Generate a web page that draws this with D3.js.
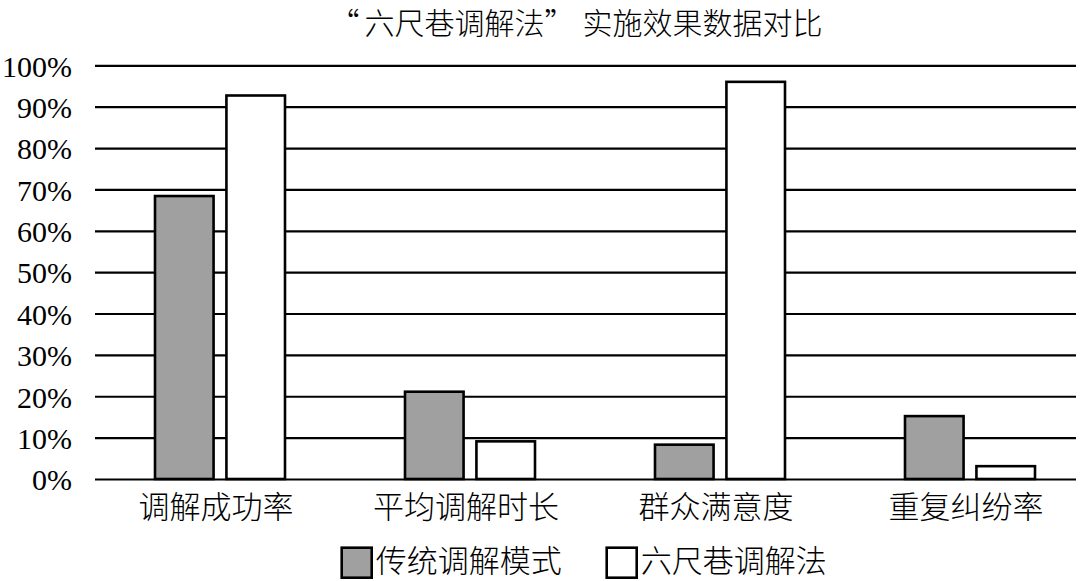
<!DOCTYPE html>
<html lang="zh-CN">
<head>
<meta charset="utf-8">
<script src="https://cdn.jsdelivr.net/npm/d3@7"></script>
<style>
  body { margin: 0; background: #fff; }
  svg { display: block; }
  .cjk { font-family: "Noto Sans CJK SC", sans-serif; font-weight: 300; fill: #000; }
  .num { font-family: "Liberation Serif", "DejaVu Serif", serif; fill: #000; }
</style>
</head>
<body>
<div id="chart"></div>
<script>
// data
var categories = ["调解成功率", "平均调解时长", "群众满意度", "重复纠纷率"]
var seriesNames = ["传统调解模式", "六尺巷调解法"]
var traditional = [0.684, 0.211, 0.083, 0.152]
var liuchixiang = [0.927, 0.091, 0.960, 0.031]
var yTicks = [0, 0.1, 0.2, 0.3, 0.4, 0.5, 0.6, 0.7, 0.8, 0.9, 1.0]
// title pieces, quotes set full-width like the original
var titleParts = ["“", "六尺巷调解法", "”", "实施效果数据对比"]

const width = 1080
const height = 581
const fills = ["#a0a0a0", "#ffffff"]

// plot area
const plotLeft = 95
const gridRight = 1076
const plotTop = 65.3
const plotBottom = 479

var rows = categories.map((c, i) => ({ cat: c, values: [traditional[i], liuchixiang[i]] }))

const svg = d3.select('#chart')
    .append('svg')
    .attr('width', width)
    .attr('height', height)

const x0 = d3.scaleBand()
    .domain(categories)
    .range([plotLeft, plotLeft + 1000])
    .padding(0)

const x1 = d3.scaleBand()
    .domain(seriesNames)
    .range([0, x0.bandwidth()])
    .paddingInner(0.18)
    .paddingOuter(0.84)

const y = d3.scaleLinear()
    .domain([0, 1])
    .range([plotBottom, plotTop])

// gridlines + y labels
const yAxis = svg.append('g')
    .attr('transform', `translate(${plotLeft},0)`)
    .call(d3.axisLeft(y)
        .tickValues(yTicks)
        .tickFormat(d3.format('.0%'))
        .tickSizeInner(-(gridRight - plotLeft))
        .tickSizeOuter(0)
        .tickPadding(23))

yAxis.attr('font-family', null)
yAxis.select('.domain').remove()
yAxis.selectAll('line')
    .attr('stroke', '#000')
    .attr('stroke-width', 2.2)
yAxis.selectAll('text')
    .attr('class', 'num')
    .attr('fill', null)
    .style('font-size', '30px')
    .attr('dy', '0.36em')

// bars
const groups = svg.append('g')
    .selectAll('g')
    .data(rows)
    .join('g')
    .attr('transform', d => `translate(${x0(d.cat)},0)`)

groups.selectAll('rect')
    .data(d => d.values.map((v, i) => ({ key: seriesNames[i], v: v, i: i })))
    .join('rect')
    .attr('x', d => x1(d.key))
    .attr('y', d => y(d.v))
    .attr('width', x1.bandwidth())
    .attr('height', d => y(0) - y(d.v))
    .attr('fill', d => fills[d.i])
    .attr('stroke', '#000')
    .attr('stroke-width', 2.6)

// category labels
const xAxis = svg.append('g')
    .attr('transform', `translate(-4,${plotBottom})`)
    .call(d3.axisBottom(x0).tickSize(0).tickPadding(0))

xAxis.attr('font-family', null)
xAxis.select('.domain').remove()
xAxis.selectAll('text')
    .attr('class', 'cjk')
    .attr('fill', null)
    .style('font-size', '31px')
    .attr('dy', null)
    .attr('y', 39)

// title
const titleEl = svg.append('text')
    .attr('class', 'cjk')
    .attr('x', 576)
    .attr('y', 34)
    .attr('text-anchor', 'middle')
    .style('font-size', '30px')

titleEl.selectAll('tspan')
    .data(titleParts)
    .join('tspan')
    .attr('dx', (d, i) => i == 3 ? 8 : (i == 1 ? 5 : 0))
    .text(d => d)

// legend
const legendX = [341.7, 606.7]
const legend = svg.append('g')
    .selectAll('g')
    .data(seriesNames)
    .join('g')
    .attr('transform', (d, i) => `translate(${legendX[i]},547.7)`)

legend.append('rect')
    .attr('width', 30)
    .attr('height', 30)
    .attr('fill', (d, i) => fills[i])
    .attr('stroke', '#000')
    .attr('stroke-width', 2.6)

legend.append('text')
    .attr('class', 'cjk')
    .attr('x', 34)
    .attr('y', 24)
    .style('font-size', '31px')
    .text(d => d)
</script>
</body>
</html>
